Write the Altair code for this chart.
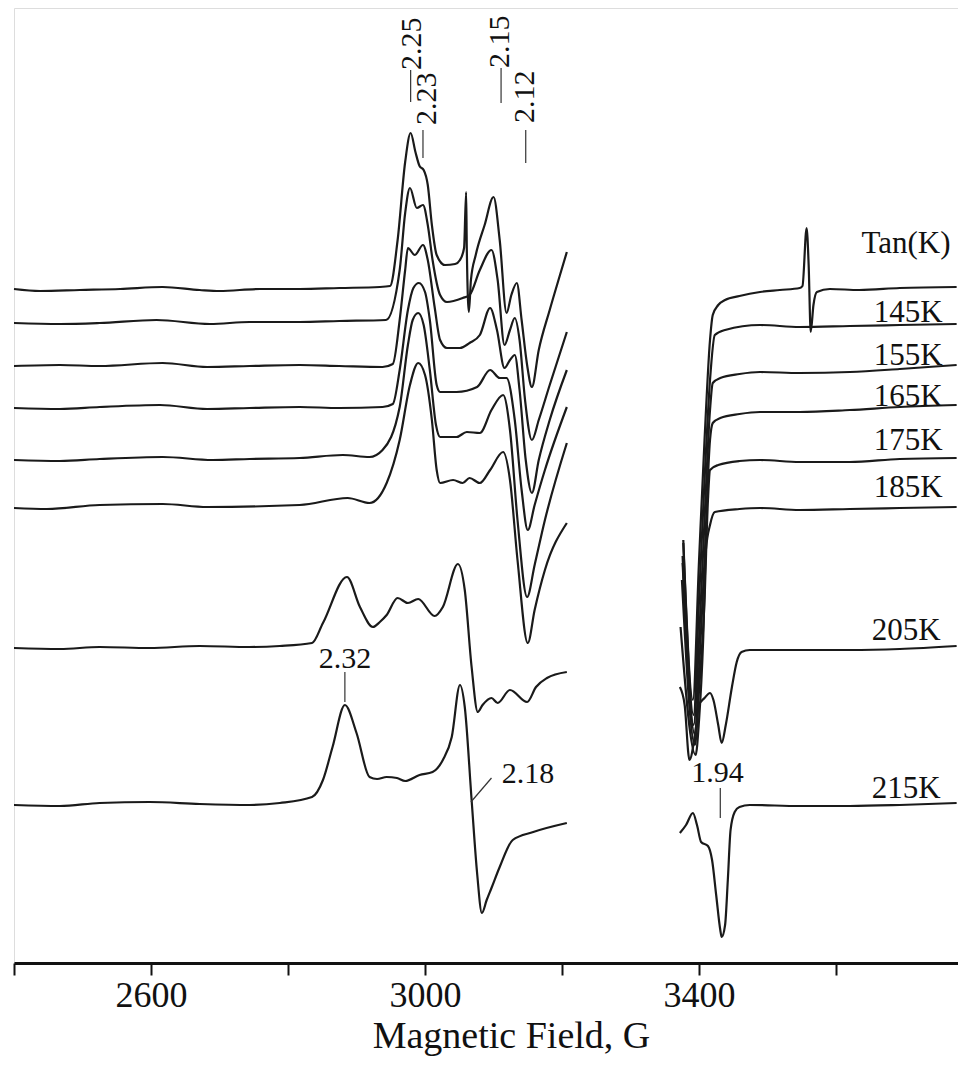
import altair as alt
import pandas as pd

FONT = "Liberation Serif"
X_MIN, X_MAX = 2400, 3778
Y_MIN, Y_MAX = 0, 955

trace_names = ["top", "145K", "155K", "165K", "175K", "185K", "205K", "215K"]
trace_offsets = [673, 640, 597, 555, 503, 455, 315, 158]

# ---- trace readings: field (G) and signal relative to each trace's baseline ----
T1L_x = [2400, 2438, 2496, 2555, 2617, 2671, 2700, 2759, 2817, 2875, 2934, 2949, 2960, 2971, 2979, 2986, 2992, 2998, 3004, 3010, 3017, 3029, 3044, 3051, 3057, 3060, 3061, 3064, 3067, 3074, 3087, 3100, 3109, 3119, 3126, 3134, 3141, 3149, 3156, 3166, 3182, 3197, 3207]
T1L_y = [1, -1, 0, 1, 3, 0, -1, 1, 1, 2, 3, 4, 50, 128, 157, 138, 124, 120, 105, 65, 35, 25, 26, 30, 42, 98, 40, -22, 10, 35, 65, 93, 50, -23, -5, 7, -30, -75, -97, -60, -20, 15, 38]
T1R_x = [3377, 3391, 3400, 3408, 3416, 3420, 3428, 3438, 3459, 3489, 3518, 3547, 3551, 3557, 3560, 3563, 3567, 3572, 3591, 3634, 3693, 3776]
T1R_y = [-250, -410, -270, -150, -50, -25, -15, -10, -6, -2, 0, 2, 4, 62, 25, -42, -15, -2, 1, 0, 2, 3]

T2L_x = [2400, 2467, 2525, 2608, 2686, 2744, 2817, 2875, 2943, 2963, 2971, 2978, 2988, 2997, 3004, 3011, 3022, 3032, 3055, 3065, 3080, 3097, 3106, 3116, 3124, 3131, 3138, 3146, 3156, 3166, 3182, 3207]
T2L_y = [0, -1, 0, 3, -1, 1, 1, 2, 3, 53, 110, 135, 115, 118, 98, 63, 28, 21, 25, 28, 53, 73, 43, -22, -7, 5, -17, -77, -117, -97, -62, -9]
T2R_x = [3377, 3392, 3400, 3408, 3416, 3423, 3438, 3489, 3547, 3620, 3693, 3776]
T2R_y = [-220, -392, -277, -157, -57, -12, -7, -2, -4, -3, -2, -1]

T3L_x = [2400, 2467, 2525, 2617, 2682, 2744, 2817, 2875, 2938, 2953, 2963, 2971, 2975, 2985, 2997, 3004, 3014, 3022, 3032, 3051, 3065, 3080, 3095, 3105, 3116, 3124, 3131, 3138, 3147, 3156, 3166, 3182, 3207]
T3L_y = [0, 1, 0, 3, -1, 0, 1, 0, -1, 2, 46, 96, 118, 111, 121, 106, 59, 26, 18, 18, 23, 31, 58, 36, -2, 6, 11, -24, -94, -127, -94, -54, -4]
T3R_x = [3376, 3392, 3400, 3408, 3416, 3420, 3431, 3459, 3489, 3547, 3620, 3693, 3776]
T3R_y = [-190, -359, -274, -154, -44, -17, -12, -8, -6, -7, -6, -3, 1]

T4L_x = [2400, 2467, 2525, 2613, 2682, 2744, 2817, 2875, 2938, 2953, 2963, 2975, 2983, 2991, 3000, 3007, 3017, 3022, 3046, 3076, 3095, 3109, 3119, 3131, 3141, 3150, 3160, 3175, 3207]
T4L_y = [0, -1, 1, 3, -1, 0, 1, 0, 1, 4, 38, 98, 120, 125, 116, 88, 23, 16, 16, 21, 38, 30, 30, -12, -82, -122, -97, -62, 1]
T4R_x = [3376, 3394, 3400, 3408, 3416, 3420, 3431, 3459, 3489, 3547, 3620, 3693, 3776]
T4R_y = [-155, -327, -262, -152, -32, -15, -10, -6, -4, -4, -2, 1, 3]

T5L_x = [2400, 2467, 2525, 2617, 2690, 2744, 2817, 2880, 2919, 2938, 2963, 2975, 2982, 2990, 2998, 3007, 3016, 3022, 3046, 3061, 3080, 3097, 3114, 3124, 3135, 3149, 3160, 3175, 3207]
T5L_y = [0, -1, 1, 3, 0, 1, 2, 5, 3, 10, 53, 115, 140, 147, 135, 90, 35, 23, 23, 28, 27, 50, 65, 30, -60, -137, -105, -60, 17]
T5R_x = [3375, 3394, 3400, 3408, 3413, 3416, 3428, 3459, 3489, 3547, 3620, 3693, 3776]
T5R_y = [-120, -285, -230, -140, -40, -10, -5, -1, 0, -2, -2, 1, 2]

T6L_x = [2400, 2448, 2525, 2617, 2682, 2817, 2887, 2919, 2944, 2963, 2978, 2990, 3000, 3010, 3017, 3022, 3041, 3055, 3065, 3080, 3095, 3114, 3124, 3135, 3150, 3160, 3175, 3207]
T6L_y = [0, -1, 3, 4, 1, 3, 10, 5, 25, 68, 123, 145, 133, 88, 38, 25, 28, 25, 30, 25, 38, 56, 28, -52, -135, -102, -62, -15]
T6R_x = [3373, 3395, 3400, 3406, 3410, 3416, 3423, 3459, 3489, 3547, 3620, 3693, 3776]
T6R_y = [-119, -247, -212, -132, -42, -17, -4, -1, 0, -2, -1, 0, 1]

T7L_x = [2400, 2467, 2525, 2598, 2671, 2744, 2788, 2835, 2851, 2886, 2905, 2924, 2934, 2944, 2960, 2975, 2990, 3014, 3026, 3048, 3058, 3068, 3077, 3084, 3097, 3106, 3124, 3149, 3162, 3178, 3207]
T7L_y = [0, -1, 1, 0, 2, 1, 2, 5, 25, 71, 41, 21, 26, 33, 50, 45, 49, 32, 41, 84, 58, -19, -64, -57, -50, -55, -42, -54, -39, -30, -24]
T7R_x = [3372, 3379, 3386, 3394, 3400, 3408, 3416, 3421, 3428, 3433, 3439, 3448, 3455, 3462, 3474, 3547, 3620, 3693, 3776]
T7R_y = [-39, -57, -112, -87, -57, -50, -45, -52, -77, -95, -77, -39, -14, -4, -2, -2, -2, -1, 2]

T8L_x = [2400, 2467, 2525, 2598, 2671, 2744, 2788, 2835, 2851, 2865, 2883, 2900, 2919, 2930, 2944, 2959, 2971, 2992, 3011, 3026, 3039, 3051, 3058, 3068, 3076, 3083, 3090, 3097, 3109, 3128, 3158, 3207]
T8L_y = [0, -1, 2, 3, 1, 0, 2, 8, 25, 58, 100, 72, 28, 26, 28, 27, 24, 30, 33, 45, 68, 120, 98, 5, -68, -108, -95, -83, -62, -35, -27, -18]
T8R_x = [3372, 3381, 3391, 3397, 3403, 3413, 3419, 3425, 3431, 3433, 3438, 3442, 3446, 3452, 3459, 3474, 3547, 3620, 3693, 3776]
T8R_y = [-28, -20, -8, -20, -37, -41, -55, -90, -125, -132, -120, -75, -25, -7, -2, 0, -1, -1, 0, 2]

segments = [
    (T1L_x, T1L_y, T1R_x, T1R_y), (T2L_x, T2L_y, T2R_x, T2R_y),
    (T3L_x, T3L_y, T3R_x, T3R_y), (T4L_x, T4L_y, T4R_x, T4R_y),
    (T5L_x, T5L_y, T5R_x, T5R_y), (T6L_x, T6L_y, T6R_x, T6R_y),
    (T7L_x, T7L_y, T7R_x, T7R_y), (T8L_x, T8L_y, T8R_x, T8R_y),
]

# ---- annotation data ----
temp_labels = ["Tan(K)", "145K", "155K", "165K", "175K", "185K", "205K", "215K"]
temp_label_x = [3637, 3655, 3655, 3655, 3655, 3655, 3652, 3652]
temp_label_y = [710, 641, 598, 557, 513, 466, 323, 165]

rot_labels = ["2.25", "2.23", "2.15", "2.12"]
rot_label_x = [2981, 3003, 3109, 3146]
rot_label_y = [893, 838, 895, 840]

flat_labels = ["2.32", "2.18", "1.94"]
flat_label_x = [2883, 3112, 3427]
flat_label_y = [295, 180, 181]
flat_label_align = ["center", "left", "center"]

lead_x = [2979, 2997, 3111, 3147, 2883, 3097, 3431]
lead_x2 = [2979, 2997, 3111, 3147, 2883, 3067, 3431]
lead_y = [893, 833, 895, 833, 291, 185, 175]
lead_y2 = [861, 805, 860, 800, 261, 161, 145]

tick_values = [2400, 2600, 2800, 3000, 3200, 3400, 3600]

rows = []
for name, off, (lx, ly, rx, ry) in zip(trace_names, trace_offsets, segments):
    for side, xs, ys in (("L", lx, ly), ("R", rx, ry)):
        for i, (xv, yv) in enumerate(zip(xs, ys)):
            rows.append({"field": xv, "y": off + yv, "seg": f"{name}-{side}", "i": i})
df = pd.DataFrame(rows)

xscale = alt.Scale(domain=[X_MIN, X_MAX], nice=False, zero=False)
yscale = alt.Scale(domain=[Y_MIN, Y_MAX], nice=False, zero=False)

xaxis = alt.Axis(
    values=tick_values,
    labelExpr="(datum.value - 2600) % 400 == 0 ? format(datum.value, 'd') : ''",
    grid=False,
    domainColor="#111",
    domainWidth=3,
    tickColor="#111",
    tickWidth=2,
    tickSize=12,
    labelFont=FONT,
    labelFontSize=36,
    labelColor="#111",
    labelPadding=3,
    title="Magnetic Field, G",
    titleFont=FONT,
    titleFontSize=38,
    titleFontWeight="normal",
    titleColor="#111",
    titlePadding=4,
    titleX=497,
    titleAlign="center",
)

lines = alt.Chart(df).mark_line(color="#1a1a1a", strokeWidth=2.2, interpolate="monotone").encode(
    x=alt.X("field:Q", scale=xscale, axis=xaxis),
    y=alt.Y("y:Q", scale=yscale, axis=None),
    detail="seg:N",
    order="i:Q",
)

lead_df = pd.DataFrame({"x": lead_x, "x2": lead_x2, "y": lead_y, "y2": lead_y2})
leads = alt.Chart(lead_df).mark_rule(color="#333", strokeWidth=1.2).encode(
    x=alt.X("x:Q", scale=xscale), x2="x2:Q",
    y=alt.Y("y:Q", scale=yscale), y2="y2:Q",
)

temp_df = pd.DataFrame({"x": temp_label_x, "y": temp_label_y, "t": temp_labels})
temps = alt.Chart(temp_df).mark_text(
    font=FONT, fontSize=31, align="left", baseline="alphabetic", color="#111"
).encode(x=alt.X("x:Q", scale=xscale), y=alt.Y("y:Q", scale=yscale), text="t:N")

rot_df = pd.DataFrame({"x": rot_label_x, "y": rot_label_y, "t": rot_labels})
rots = alt.Chart(rot_df).mark_text(
    font=FONT, fontSize=30, align="left", baseline="middle", angle=270, color="#111"
).encode(x=alt.X("x:Q", scale=xscale), y=alt.Y("y:Q", scale=yscale), text="t:N")

flat_layers = []
for t, xv, yv, al in zip(flat_labels, flat_label_x, flat_label_y, flat_label_align):
    fdf = pd.DataFrame({"x": [xv], "y": [yv], "t": [t]})
    flat_layers.append(
        alt.Chart(fdf).mark_text(font=FONT, fontSize=30, align=al, baseline="alphabetic", color="#111")
        .encode(x=alt.X("x:Q", scale=xscale), y=alt.Y("y:Q", scale=yscale), text="t:N")
    )

chart = alt.layer(lines, leads, temps, rots, *flat_layers).properties(
    width=944,
    height=955,
    autosize=alt.AutoSizeParams(type="none"),
    padding={"left": 6, "top": 0, "right": 0, "bottom": 94},
).configure_view(strokeWidth=0, strokeOpacity=0).configure(background="white")

chart.save("out.html", embed_options={"renderer": "svg", "actions": False})
